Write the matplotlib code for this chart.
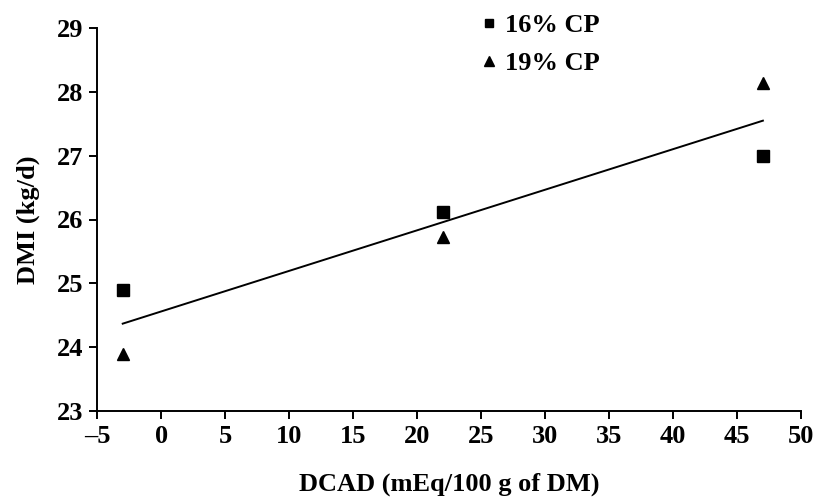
import numpy as np
import matplotlib.pyplot as plt

plt.rcParams['font.family'] = ['Liberation Serif', 'DejaVu Serif']
plt.rcParams['font.weight'] = 'bold'

# DCAD levels and DMI per CP level
dcad = [-3, 22, 47]
dmi_16 = [24.89, 26.11, 27.0]
dmi_19 = [23.89, 25.72, 28.14]

fig = plt.figure(figsize=(8.16, 5), dpi=100)
ax = fig.add_axes([0.119, 0.178, 0.863, 0.766])

ax.plot(dcad, dmi_16, 's', color='black', markersize=8, label='16% CP', clip_on=False)
ax.plot(dcad, dmi_19, '^', color='black', markersize=9, label='19% CP', clip_on=False)

# pooled regression line
x_all = np.array(dcad + dcad)
y_all = np.array(dmi_16 + dmi_19)
slope, intercept = np.polyfit(x_all, y_all, 1)
xl = np.array([min(dcad), max(dcad)])
ax.plot(xl, slope * xl + intercept, color='black', linewidth=1.4)

ax.set_xlim(-5, 50)
ax.set_ylim(23, 29)
ax.set_xticks(range(-5, 51, 5))
ax.set_xticklabels(['\u20135'] + [str(v) for v in range(0, 51, 5)])
ax.set_yticks(range(23, 30))

for s in ['top', 'right']:
    ax.spines[s].set_visible(False)
for s in ['left', 'bottom']:
    ax.spines[s].set_linewidth(1.4)
ax.tick_params(direction='out', length=6, width=1.4, labelsize=19, pad=4)

ax.set_xlabel('DCAD (mEq/100 g of DM)', fontsize=19, fontweight='bold', labelpad=18)
ax.set_ylabel('DMI (kg/d)', fontsize=19, fontweight='bold', labelpad=12)

leg = ax.legend(loc='upper left', bbox_to_anchor=(0.508, 1.10), frameon=False,
                handletextpad=0.2, handlelength=0.8, markerscale=0.8,
                labelspacing=0.57, prop={'weight': 'bold', 'size': 19})

fig.savefig('out.png', dpi=100)
